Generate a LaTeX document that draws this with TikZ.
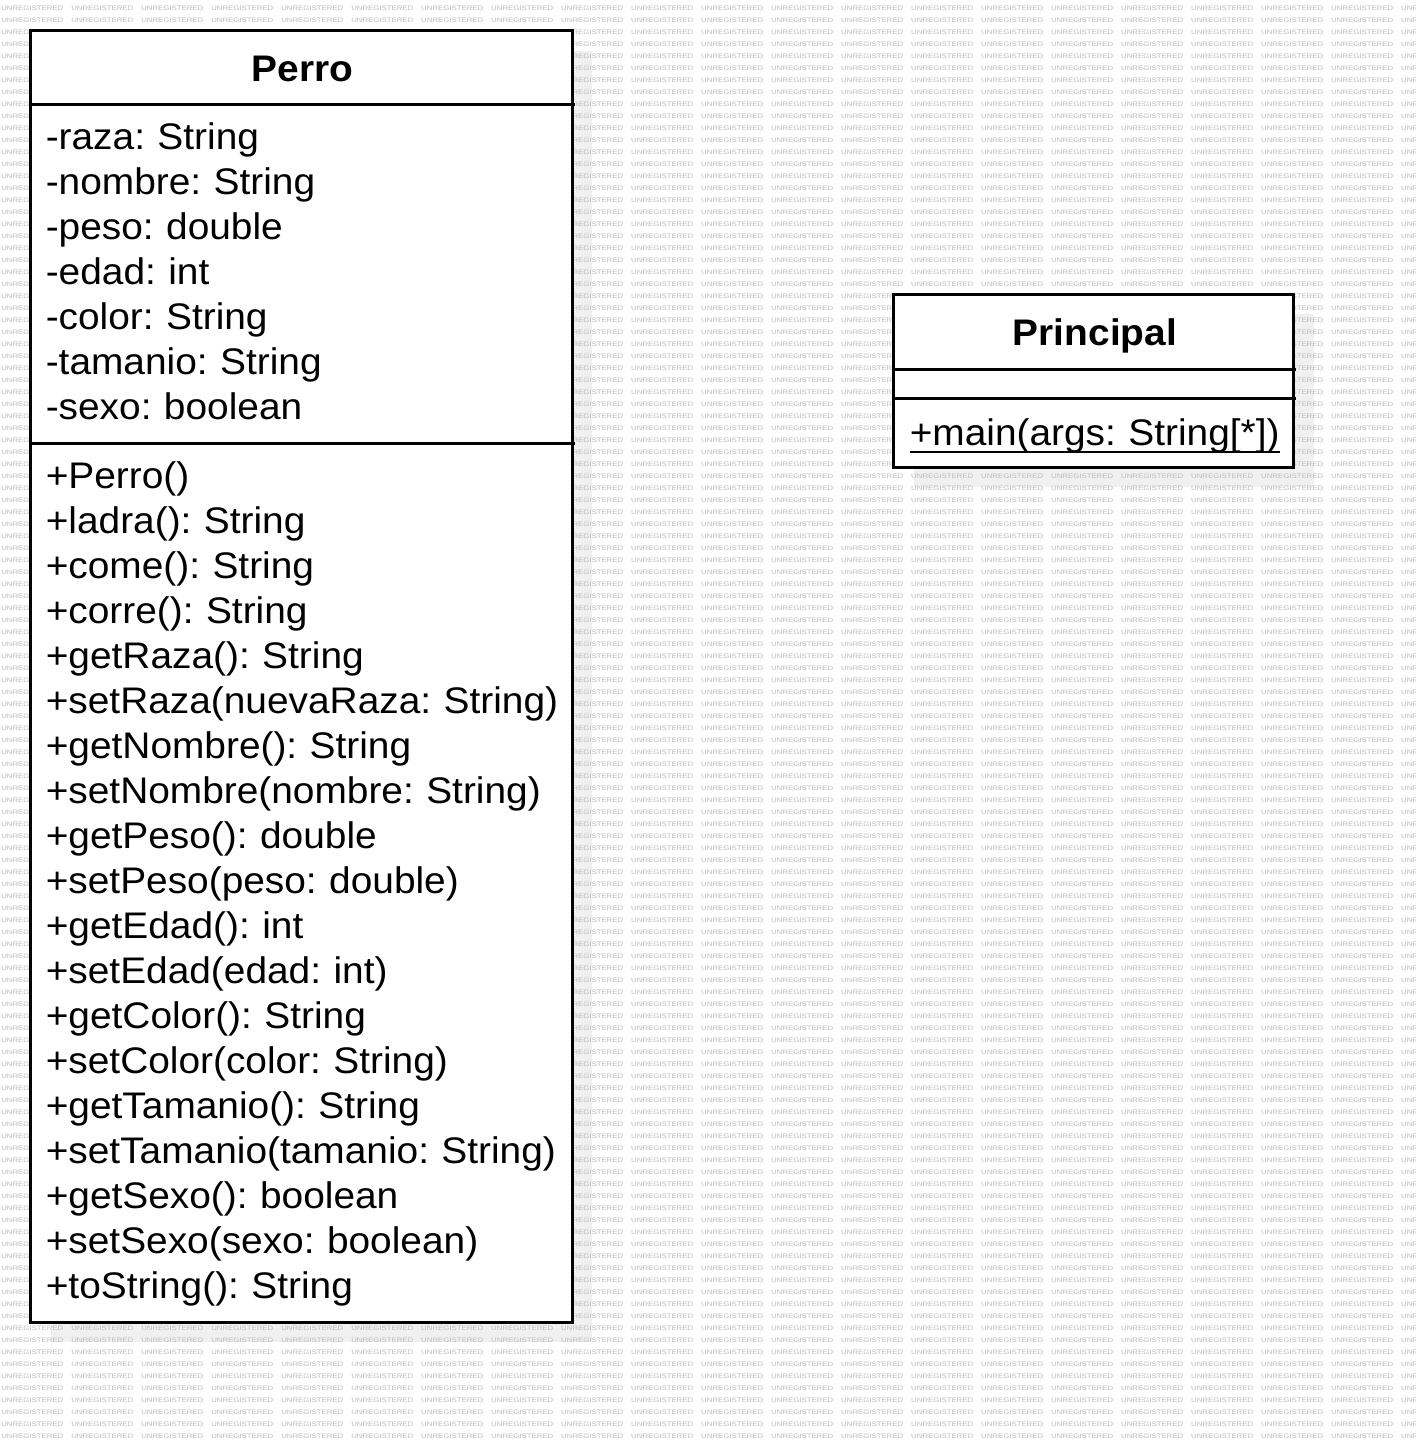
\documentclass[tikz,border=0pt]{standalone}
\usepackage{fontspec}
\setmainfont[FakeStretch=1.05,WordSpace=0.82]{Liberation Sans}
\newfontfamily\wmfont[FakeStretch=1.2]{Liberation Sans}
\usetikzlibrary{calc}
\newcommand\wmcell{\makebox[52.5pt][l]{UNREGISTERED}}
\newcommand\wmfive{\wmcell\wmcell\wmcell\wmcell\wmcell}
\newcommand\wmrow{\wmfive\wmfive\wmfive\wmfive\wmcell}
\tikzset{
  boxline/.style={line width=2.25pt, draw=black, line cap=rect},
  sepline/.style={line width=2.25pt, draw=black},
  shadowbox/.style={fill=black!6, draw=none},
  member/.style={anchor=base west, inner sep=0pt, font=\fontsize{27.75pt}{33.75pt}\selectfont},
  classtitle/.style={anchor=base, inner sep=0pt, font=\fontsize{27.75pt}{33.75pt}\selectfont\bfseries},
  wm/.style={anchor=base west, inner sep=0pt, text=black!27, font=\wmfont\fontsize{4.875pt}{6pt}\selectfont},
  uline/.style={line width=1.6pt, draw=black},
}
\begin{document}
\begin{tikzpicture}[x=0.75pt,y=-0.75pt]
\useasboundingbox (0,0) rectangle (1416,1443);
\fill[white] (0,0) rectangle (1416,1443);
% shadows
\fill[shadowbox] (50.5,50.5) rectangle (592,1342);
\fill[shadowbox] (913.5,314) rectangle (1313.5,487);
% watermark
\begin{scope}
\clip (0,0) rectangle (1416,1443);
\foreach \k in {0,...,119}{
  \node[wm] (wm\k) at (1, 10.3+12*\k) {\wmrow};
}
\end{scope}
% Perro class
\coordinate (pTL) at (30.5,30.5);
\coordinate (pBR) at (572,1322);
\draw[boxline, fill=white] (pTL) rectangle (pBR);
\coordinate (pS1a) at (30.5,104);
\coordinate (pS1b) at (575,104);
\coordinate (pS2a) at (30.5,443);
\coordinate (pS2b) at (575,443);
\draw[sepline] (pS1a) -- (pS1b);
\draw[sepline] (pS2a) -- (pS2b);
\node[classtitle] (perroT) at (302.5,81) {Perro};
\foreach \t [count=\i from 0] in {-raza: String,-nombre: String,-peso: double,-edad: int,-color: String,-tamanio: String,-sexo: boolean}{
  \node[member] (pa\i) at (45.5,149.5+45*\i) {\t};
}
\foreach \t [count=\i from 0] in {+Perro(),+ladra(): String,+come(): String,+corre(): String,+getRaza(): String,+setRaza(nuevaRaza: String),+getNombre(): String,+setNombre(nombre: String),+getPeso(): double,+setPeso(peso: double),+getEdad(): int,+setEdad(edad: int),+getColor(): String,+setColor(color: String),+getTamanio(): String,+setTamanio(tamanio: String),+getSexo(): boolean,+setSexo(sexo: boolean),+toString(): String}{
  \node[member] (pm\i) at (45.5,488.5+45*\i) {\t};
}
% Principal class
\coordinate (qTL) at (893.5,294);
\coordinate (qBR) at (1293.5,467);
\draw[boxline, fill=white] (qTL) rectangle (qBR);
\coordinate (qS1a) at (893.5,369);
\coordinate (qS1b) at (1296,369);
\coordinate (qS2a) at (893.5,398);
\coordinate (qS2b) at (1296,398);
\draw[sepline] (qS1a) -- (qS1b);
\draw[sepline] (qS2a) -- (qS2b);
\node[classtitle] (principalT) at (1095,345) {Principal};
\node[member] (qm0) at (909.5,445) {+main(args: String[*])};
\draw[uline] ($(qm0.base west)+(0,7)$) -- ($(qm0.base east)+(0,7)$);
\end{tikzpicture}
\end{document}
